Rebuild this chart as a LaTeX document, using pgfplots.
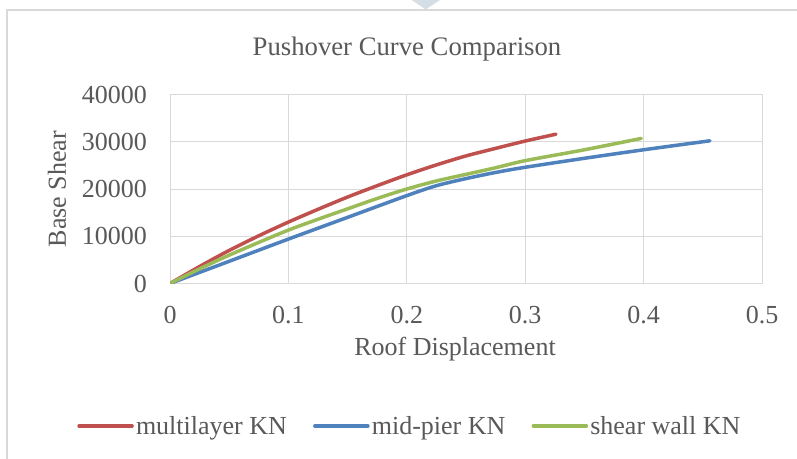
\documentclass[border=0pt]{standalone}
\usepackage{fontspec}
\setmainfont{Liberation Serif}
\usepackage{pgfplots}
\pgfplotsset{compat=1.18}
\definecolor{txtgray}{HTML}{595959}
\definecolor{gridgray}{HTML}{D9D9D9}
\definecolor{framegray}{HTML}{D9D9D9}
\definecolor{tri}{HTML}{D5DEE4}
\definecolor{cred}{HTML}{C0504D}
\definecolor{cblue}{HTML}{4F81BD}
\definecolor{cgreen}{HTML}{9BBB59}
\newcommand{\cf}{\fontsize{26bp}{30bp}\selectfont}
\begin{document}
\begin{tikzpicture}
\useasboundingbox (0,0) rectangle (797bp,459bp);
\fill[white] (0,0) rectangle (797bp,459bp);
% frame
\draw[framegray, line width=1.5bp] (7bp,0bp) -- (7bp,449bp) -- (800bp,449bp);
\fill[tri] (411.7bp,459bp) -- (440bp,459bp) -- (425.7bp,449.5bp) -- cycle;
% title
\node[font=\fontsize{26.7bp}{31bp}\selectfont, text=txtgray] at (407bp,410bp) {Pushover Curve Comparison};
\begin{axis}[
  at={(170bp,175.5bp)}, anchor=south west,
  scale only axis, width=592bp, height=189bp,
  xmin=0, xmax=0.5, ymin=0, ymax=40000,
  scaled x ticks=false, scaled y ticks=false,
  xtick={0,0.1,0.2,0.3,0.4,0.5},
  xticklabels={0,0.1,0.2,0.3,0.4,0.5},
  ytick={0,10000,20000,30000,40000},
  yticklabels={0,10000,20000,30000,40000},
  /pgf/number format/assume math mode=true,
  major tick length=0pt,
  grid=major,
  major grid style={gridgray, line width=1bp},
  axis line style={gridgray, line width=1bp},
  tick label style={font=\cf, text=txtgray},
  xticklabel style={anchor=center, inner sep=0pt, yshift=-31.5bp},
  yticklabel style={anchor=east, inner sep=0pt, xshift=-23bp},
  xlabel={Roof Displacement},
  ylabel={Base Shear},
  label style={font=\cf, text=txtgray},
  xlabel style={at={(axis description cs:0.4814,0)}, anchor=center, yshift=-65.5bp, inner sep=0pt},
  ylabel style={at={(axis description cs:-0.1909,0.5)}, anchor=center, inner sep=0pt},
  legend columns=3,
  legend style={at={(axis description cs:0.4054,-0.754)}, anchor=center, draw=none, fill=none,
    font=\cf, text=txtgray, nodes={inner xsep=2.2bp, inner ysep=0bp},
    /tikz/every even column/.append style={column sep=24bp}},
  legend cell align=left,
  legend image code/.code={\draw[#1, line width=3.5bp] (0bp,0bp) -- (53bp,0bp);},
  every axis plot/.append style={line width=3.5bp, smooth, tension=0.5, line cap=round},
]
\addplot[cred] coordinates {
(0,0) (0.025,3600) (0.05,7000) (0.075,10100) (0.1,13000) (0.125,15700)
(0.15,18300) (0.175,20700) (0.2,23000) (0.225,25100) (0.25,27000)
(0.275,28600) (0.3,30150) (0.326,31600)};
\addlegendentry{multilayer KN}
\addplot[cblue] coordinates {
(0,0) (0.05,4700) (0.1,9400) (0.15,14000) (0.2,18600) (0.225,20700)
(0.25,22200) (0.275,23500) (0.3,24600) (0.35,26500) (0.4,28300) (0.456,30200)};
\addlegendentry{mid-pier KN}
\addplot[cgreen] coordinates {
(0,0) (0.025,3100) (0.05,6000) (0.075,8700) (0.1,11300) (0.125,13600)
(0.15,15800) (0.175,18000) (0.2,20000) (0.225,21700) (0.25,23100)
(0.275,24500) (0.3,26000) (0.35,28300) (0.398,30700)};
\addlegendentry{shear wall KN}
\end{axis}
\end{tikzpicture}
\end{document}
